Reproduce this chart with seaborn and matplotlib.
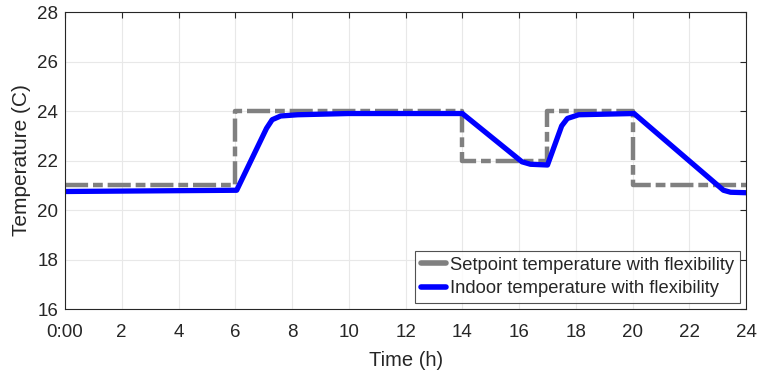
import matplotlib
matplotlib.use("Agg")
import matplotlib.pyplot as plt
import seaborn as sns
import pandas as pd

# Data
setpoint_time = [0, 6, 6, 14, 14, 17, 17, 20, 20, 24]
setpoint_temp = [21, 21, 24, 24, 22, 22, 24, 24, 21, 21]

indoor_time = [0, 6.05, 7.1, 7.3, 7.6, 8.2, 10, 14, 16.1, 16.4, 17.0, 17.5, 17.7, 18.1, 20.05, 23.2, 23.45, 24]
indoor_temp = [20.75, 20.8, 23.3, 23.65, 23.8, 23.85, 23.9, 23.9, 21.95, 21.85, 21.82, 23.4, 23.7, 23.85, 23.9, 20.8, 20.72, 20.7]

x_ticks = list(range(0, 25, 2))
x_tick_labels = ["0:00"] + [str(t) for t in x_ticks[1:]]
y_ticks = list(range(16, 29, 2))

sns.set_theme(style="whitegrid")
plt.rcParams["font.family"] = ["Liberation Sans", "DejaVu Sans"]

fig = plt.figure(figsize=(7.59, 3.76), dpi=100)
ax = fig.add_axes([0.0856, 0.178, 0.8975, 0.79])

df_set = pd.DataFrame({"t": setpoint_time, "v": setpoint_temp})
df_in = pd.DataFrame({"t": indoor_time, "v": indoor_temp})

sns.lineplot(data=df_set, x="t", y="v", ax=ax, sort=False, estimator=None,
             color="#808080", linewidth=3.2, linestyle=(0, (5.2, 1.1, 2.2, 1.1)),
             label="Setpoint temperature with flexibility")
sns.lineplot(data=df_in, x="t", y="v", ax=ax, sort=False, estimator=None,
             color="#0000ff", linewidth=3.8,
             label="Indoor temperature with flexibility")

ax.set_xlim(0, 24)
ax.set_ylim(16, 28)
ax.set_xticks(x_ticks)
ax.set_xticklabels(x_tick_labels)
ax.set_yticks(y_ticks)
ax.set_xlabel("Time (h)", fontsize=14.5, color="#262626", labelpad=7)
ax.set_ylabel("Temperature (C)", fontsize=15, color="#262626", labelpad=4)
ax.tick_params(axis="x", pad=11)
ax.tick_params(axis="y", pad=5)
ax.tick_params(axis="both", labelsize=13.5, colors="#262626", direction="in",
               length=4, width=0.8, top=True, right=True)
ax.grid(True, color="#e8e8e8", linewidth=0.8)
for s in ax.spines.values():
    s.set_visible(True)
    s.set_color("#262626")
    s.set_linewidth(0.8)
ax.set_facecolor("white")

leg = ax.legend(loc="lower right", fontsize=13.2, frameon=True, fancybox=False,
                handlelength=1.4, handletextpad=0.2, borderpad=0.3,
                labelspacing=0.35, borderaxespad=0.35)
leg.get_frame().set_edgecolor("#262626")
leg.get_frame().set_linewidth(0.8)
for h in leg.get_lines():
    h.set_linestyle("-")
    h.set_linewidth(4)
for t in leg.get_texts():
    t.set_color("#262626")

fig.savefig("out.png", dpi=100)
